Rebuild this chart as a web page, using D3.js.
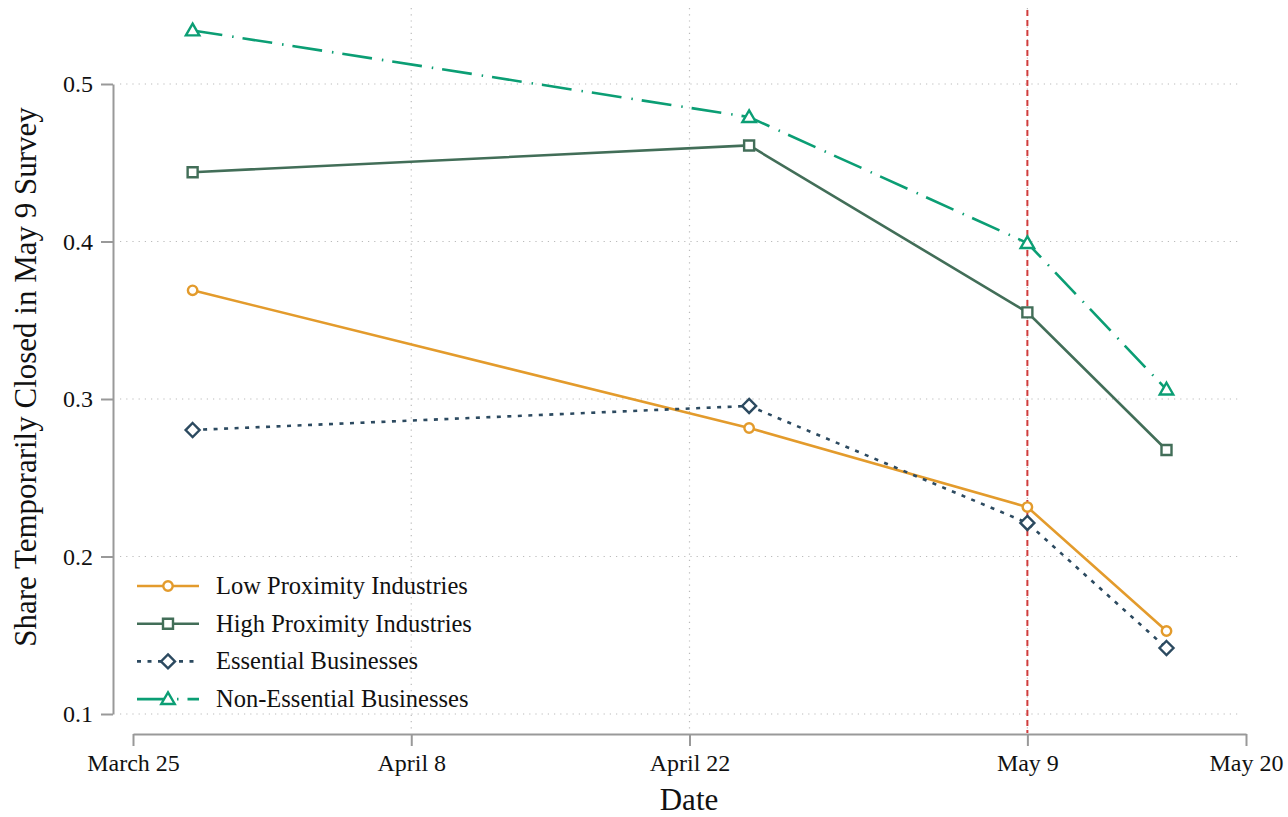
<!DOCTYPE html>
<html>
<head>
<meta charset="utf-8">
<script src="https://cdn.jsdelivr.net/npm/d3@7"></script>
<style>
body { margin: 0; background: #fff; }
text { font-family: "Liberation Serif", "DejaVu Serif", serif; fill: #111; }
</style>
</head>
<body>
<svg width="1288" height="817"></svg>
<script>
// data
const dates = ['2020-03-28', '2020-04-25', '2020-05-09', '2020-05-16'];
const lowProximity = [0.369, 0.2816, 0.2314, 0.1527];
const highProximity = [0.444, 0.461, 0.355, 0.2676];
const essential = [0.2803, 0.2956, 0.2213, 0.1419];
const nonEssential = [0.534, 0.479, 0.399, 0.306];
const xTickDates = ['2020-03-25', '2020-04-08', '2020-04-22', '2020-05-09', '2020-05-20'];
const xTickLabels = ['March 25', 'April 8', 'April 22', 'May 9', 'May 20'];
const yTicks = [0.1, 0.2, 0.3, 0.4, 0.5];
const surveyDate = '2020-05-09';

const parse = d3.timeParse('%Y-%m-%d');

const series = [
    {name: 'Low Proximity Industries', values: lowProximity, color: '#E39B2C', dash: null, symbol: 'circle'},
    {name: 'High Proximity Industries', values: highProximity, color: '#426E58', dash: null, symbol: 'square'},
    {name: 'Essential Businesses', values: essential, color: '#2C4A60', dash: '4,6.5', symbol: 'diamond'},
    {name: 'Non-Essential Businesses', values: nonEssential, color: '#0B9E74', dash: '30,10,1.5,9', symbol: 'triangle'}
];

const svg = d3.select('svg');

const xScale = d3.scaleTime()
    .domain([parse('2020-03-25'), parse('2020-05-20')])
    .range([133, 1246]);

const yScale = d3.scaleLinear()
    .domain([0.1, 0.5])
    .range([714, 84]);

// grid
const grid = svg.append('g');
grid.selectAll('.hgrid')
    .data(yTicks)
    .enter().append('line')
        .attr('x1', 120).attr('x2', 1242)
        .attr('y1', d => yScale(d)).attr('y2', d => yScale(d))
        .attr('stroke', '#bbb').attr('stroke-width', 1.2)
        .attr('stroke-dasharray', '1.2,5');
grid.selectAll('.vgrid')
    .data(xTickDates.slice(1, 4))
    .enter().append('line')
        .attr('x1', d => xScale(parse(d))).attr('x2', d => xScale(parse(d)))
        .attr('y1', 8).attr('y2', 733)
        .attr('stroke', '#bbb').attr('stroke-width', 1.2)
        .attr('stroke-dasharray', '1.2,5');

// y axis
const yAxisG = svg.append('g')
    .attr('transform', 'translate(113,0)')
    .call(d3.axisLeft(yScale).tickValues(yTicks).tickSize(12).tickSizeOuter(0).tickPadding(8).tickFormat(d3.format('.1f')));
yAxisG.select('.domain').attr('stroke', '#999').attr('stroke-width', 2);
yAxisG.selectAll('.tick line').attr('stroke', '#999').attr('stroke-width', 2);
yAxisG.selectAll('.tick text').attr('font-size', 24).attr('fill', '#111')
    .style('font-family', '"Liberation Serif", serif');

// x axis
const xAxisG = svg.append('g')
    .attr('transform', 'translate(0,734)')
    .call(d3.axisBottom(xScale)
        .tickValues(xTickDates.map(parse))
        .tickSize(12).tickSizeOuter(0).tickPadding(8)
        .tickFormat((d, i) => xTickLabels[i]));
xAxisG.select('.domain').attr('stroke', '#999').attr('stroke-width', 2);
xAxisG.selectAll('.tick line').attr('stroke', '#999').attr('stroke-width', 2);
xAxisG.selectAll('.tick text').attr('font-size', 24).attr('fill', '#111')
    .style('font-family', '"Liberation Serif", serif');

// axis titles
svg.append('text')
    .attr('x', 689).attr('y', 810)
    .attr('text-anchor', 'middle')
    .attr('font-size', 31)
    .text('Date');
svg.append('text')
    .attr('transform', 'translate(36,377) rotate(-90)')
    .attr('text-anchor', 'middle')
    .attr('font-size', 31)
    .text('Share Temporarily Closed in May 9 Survey');

// survey line
svg.append('line')
    .attr('x1', xScale(parse(surveyDate))).attr('x2', xScale(parse(surveyDate)))
    .attr('y1', 10).attr('y2', 733)
    .attr('stroke', '#D13C3C').attr('stroke-width', 2)
    .attr('stroke-dasharray', '6,4');

const symbolSize = {circle: 70, square: 100, diamond: 125, triangle: 130};
const symbolType = {circle: d3.symbolCircle, square: d3.symbolSquare, diamond: d3.symbolDiamond2, triangle: d3.symbolTriangle2};

const line = d3.line()
    .x((d, i) => xScale(parse(dates[i])))
    .y(d => yScale(d));

series.forEach(s => {
    svg.append('path')
        .attr('d', line(s.values))
        .attr('fill', 'none')
        .attr('stroke', s.color)
        .attr('stroke-width', 2.6)
        .attr('stroke-dasharray', s.dash);
    svg.selectAll(null)
        .data(s.values)
        .enter().append('path')
            .attr('transform', (d, i) => `translate(${xScale(parse(dates[i]))},${yScale(d) + (s.symbol == 'triangle' ? 1 : 0)})`)
            .attr('d', d3.symbol().type(symbolType[s.symbol]).size(symbolSize[s.symbol]))
            .attr('fill', '#fff')
            .attr('stroke', s.color)
            .attr('stroke-width', 2.4);
});

// legend
const legend = svg.append('g');
series.forEach((s, i) => {
    const y = 586 + i * 37.7;
    legend.append('line')
        .attr('x1', 137).attr('x2', 199)
        .attr('y1', y).attr('y2', y)
        .attr('stroke', s.color).attr('stroke-width', 2.6)
        .attr('stroke-dasharray', s.dash);
    legend.append('path')
        .attr('transform', `translate(168,${y + (s.symbol == 'triangle' ? 1 : 0)})`)
        .attr('d', d3.symbol().type(symbolType[s.symbol]).size(symbolSize[s.symbol]))
        .attr('fill', '#fff')
        .attr('stroke', s.color)
        .attr('stroke-width', 2.4);
    legend.append('text')
        .attr('x', 216).attr('y', y + 8)
        .attr('font-size', 24.5)
        .text(s.name);
});
</script>
</body>
</html>
